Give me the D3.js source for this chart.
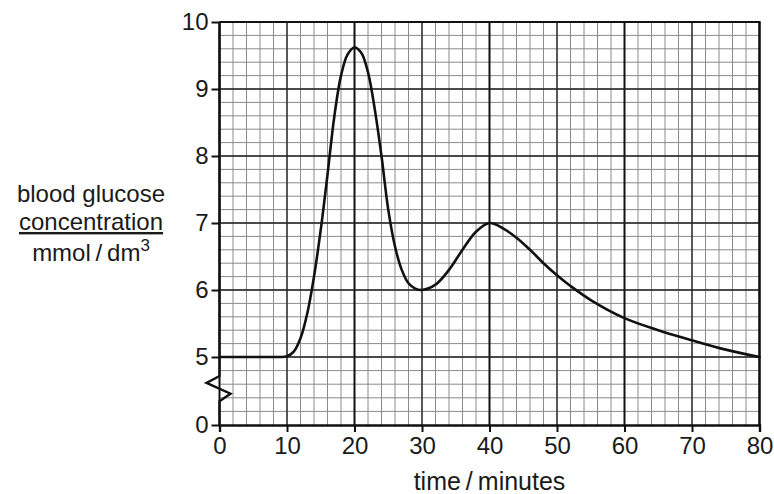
<!DOCTYPE html>
<html>
<head>
<meta charset="utf-8">
<script src="https://cdn.jsdelivr.net/npm/d3@7"></script>
<style>
  body { margin: 0; background: #fff; }
  text { font-family: "Liberation Sans", Arial, sans-serif; fill: #1a1a1a; }
</style>
</head>
<body>
<div id="chart"></div>
<script>
// readings
var time    = [0, 5, 8, 9, 10, 11, 12, 13, 14, 15, 16, 17, 18, 19, 20, 21, 22, 23, 24, 25, 26, 27, 28, 29, 30,
               32, 34, 36, 38, 40, 42, 44, 46, 48, 50, 52, 55, 60, 65, 70, 75, 80];
var glucose = [5, 5, 5, 5, 5.01, 5.08, 5.28, 5.65, 6.2, 6.9, 7.72, 8.58, 9.2, 9.52, 9.62, 9.54, 9.25, 8.7, 8.0, 7.2, 6.65, 6.3, 6.1, 6.02, 6.0,
               6.08, 6.3, 6.6, 6.87, 7.0, 6.92, 6.78, 6.6, 6.4, 6.22, 6.06, 5.85, 5.58, 5.4, 5.25, 5.11, 5.0];

var xTicks = [0, 10, 20, 30, 40, 50, 60, 70, 80];
var yTicks = [0, 5, 6, 7, 8, 9, 10];

var margin = { top: 22, left: 219.5, right: 14.5, bottom: 69 },
    width = 774 - margin.left - margin.right,
    height = 494 - margin.top - margin.bottom;

var svg = d3.select("#chart")
    .append("svg")
    .attr("width", 774)
    .attr("height", 494)
    .append("g")
    .attr("transform", "translate(" + margin.left + "," + margin.top + ")");

var xPositionScale = d3.scaleLinear()
    .domain([0, 80])
    .range([0, width]);

// broken axis: 0-5 squeezed into one big square
var yPositionScale = d3.scaleLinear()
    .domain([0, 5, 10])
    .range([height, height - 68, 0]);

// graph paper
var minorX = d3.range(0, 81, 2),
    majorX = d3.range(0, 81, 10),
    minorY = d3.range(1, 5).concat(d3.range(5, 10.01, 0.2)),
    majorY = d3.range(5, 11, 1);

svg.selectAll(".minor-x")
    .data(minorX)
    .enter().append("line")
    .attr("class", "minor-x")
    .attr("x1", function(d) { return xPositionScale(d) })
    .attr("x2", function(d) { return xPositionScale(d) })
    .attr("y1", 0)
    .attr("y2", height)
    .attr("stroke", "#8a8a8a")
    .attr("stroke-width", 1);

svg.selectAll(".minor-y")
    .data(minorY)
    .enter().append("line")
    .attr("class", "minor-y")
    .attr("x1", 0)
    .attr("x2", width)
    .attr("y1", function(d) { return yPositionScale(d) })
    .attr("y2", function(d) { return yPositionScale(d) })
    .attr("stroke", "#8a8a8a")
    .attr("stroke-width", 1);

svg.selectAll(".major-x")
    .data(majorX)
    .enter().append("line")
    .attr("class", "major-x")
    .attr("x1", function(d) { return xPositionScale(d) })
    .attr("x2", function(d) { return xPositionScale(d) })
    .attr("y1", 0)
    .attr("y2", height)
    .attr("stroke", function(d) { return d % 20 == 0 ? "#111" : "#333" })
    .attr("stroke-width", function(d) { return d % 20 == 0 ? 2 : 1.5 });

svg.selectAll(".major-y")
    .data(majorY)
    .enter().append("line")
    .attr("class", "major-y")
    .attr("x1", 0)
    .attr("x2", width)
    .attr("y1", function(d) { return yPositionScale(d) })
    .attr("y2", function(d) { return yPositionScale(d) })
    .attr("stroke", "#222")
    .attr("stroke-width", 1.6);

// frame top / right
svg.append("path")
    .attr("d", "M0," + yPositionScale(10) + "H" + xPositionScale(80) + "V" + yPositionScale(0))
    .attr("fill", "none")
    .attr("stroke", "#111")
    .attr("stroke-width", 2.2);

// x axis
var xAxis = d3.axisBottom(xPositionScale)
    .tickValues(xTicks)
    .tickSize(7)
    .tickPadding(5);

svg.append("g")
    .attr("class", "axis x-axis")
    .attr("transform", "translate(0," + height + ")")
    .call(xAxis)
    .call(function(g) {
      g.select(".domain").attr("stroke-width", 2.4).attr("stroke", "#111")
      g.selectAll(".tick line").attr("stroke-width", 2).attr("stroke", "#111")
      g.selectAll(".tick text").attr("font-size", "24px").attr("fill", "#1a1a1a")
        .attr("font-family", '"Liberation Sans", Arial, sans-serif')
    });

// y axis, domain replaced by a line with a zigzag break
var yAxis = d3.axisLeft(yPositionScale)
    .tickValues(yTicks)
    .tickSize(8)
    .tickPadding(3)
    .tickFormat(d3.format("d"));

svg.append("g")
    .attr("class", "axis y-axis")
    .call(yAxis)
    .call(function(g) {
      g.select(".domain").remove()
      g.selectAll(".tick line").attr("stroke-width", 2).attr("stroke", "#111")
      g.selectAll(".tick text").attr("font-size", "24px").attr("fill", "#1a1a1a")
        .attr("font-family", '"Liberation Sans", Arial, sans-serif')
    });

var breakLine = d3.line()
    .x(function(d) { return d[0] })
    .y(function(d) { return yPositionScale(d[1]) });

svg.append("path")
    .attr("d", breakLine([[0, 10], [0, 3.6], [-13, 3.1], [11, 2.3], [0, 1.75], [0, 0]]))
    .attr("fill", "none")
    .attr("stroke", "#111")
    .attr("stroke-width", 2.4)
    .attr("stroke-linejoin", "miter");

// the curve
var points = time.map(function(t, i) { return { time: t, glucose: glucose[i] } });

var line = d3.line()
    .x(function(d) { return xPositionScale(d.time) })
    .y(function(d) { return yPositionScale(d.glucose) })
    .curve(d3.curveCatmullRom.alpha(0.5));

svg.append("path")
    .datum(points)
    .attr("d", line)
    .attr("fill", "none")
    .attr("stroke", "#111")
    .attr("stroke-width", 2.6)
    .attr("stroke-linecap", "round");

// axis titles
svg.append("text")
    .text("time\u2009/\u2009minutes")
    .attr("x", xPositionScale(40))
    .attr("y", height + 65)
    .attr("text-anchor", "middle")
    .attr("font-size", "25px");

var yTitle = svg.append("text")
    .attr("text-anchor", "middle")
    .attr("font-size", "24px");

yTitle.append("tspan")
    .attr("x", -128.5)
    .attr("y", 180)
    .text("blood glucose");

yTitle.append("tspan")
    .attr("x", -128.5)
    .attr("y", 208)
    .attr("text-decoration", "underline")
    .text("concentration");

var unit = yTitle.append("tspan")
    .attr("x", -128.5)
    .attr("y", 239)
    .text("mmol\u2009/\u2009dm");

unit.append("tspan")
    .attr("dy", -10)
    .attr("font-size", "17px")
    .text("3");

</script>
</body>
</html>
